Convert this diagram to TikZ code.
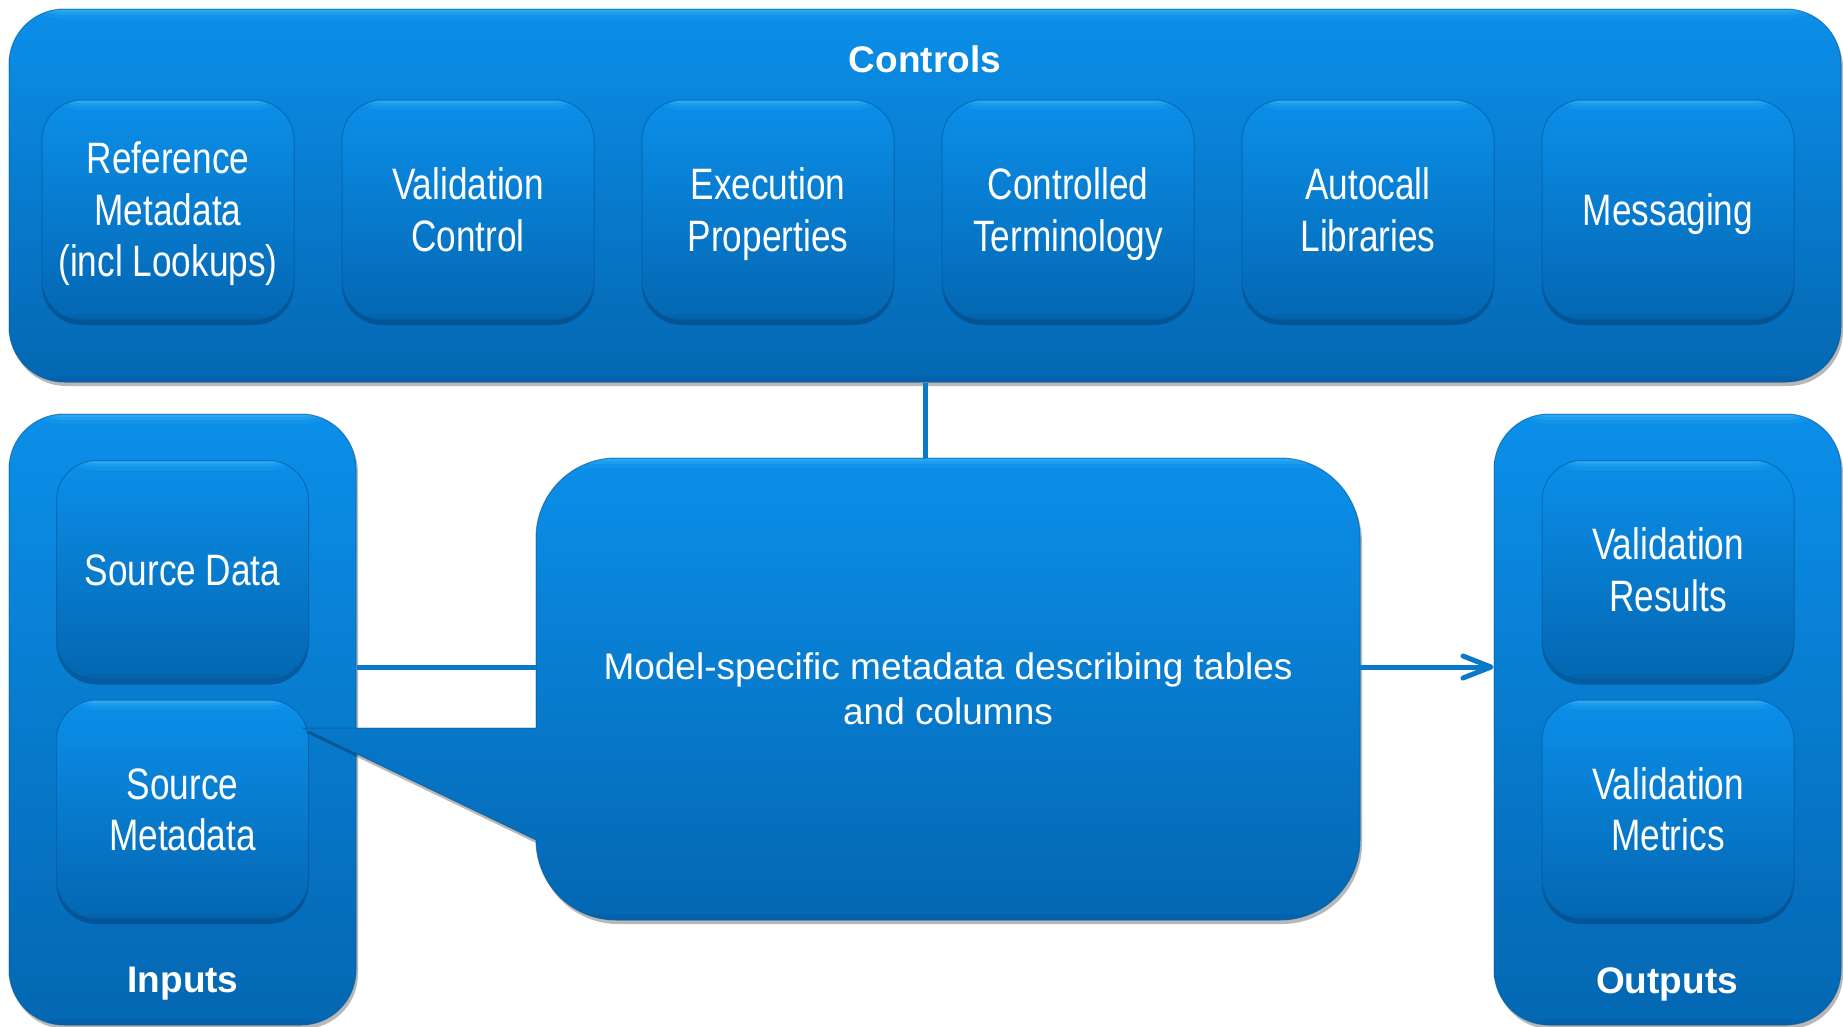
\documentclass[tikz,border=0pt]{standalone}
\usepackage{fontspec}
\setmainfont{Liberation Sans}
\newfontfamily\narrowfont[FakeStretch=0.8]{Liberation Sans}
\usetikzlibrary{shadows,arrows.meta,calc}
\definecolor{btop}{RGB}{11,143,233}
\definecolor{bbot}{RGB}{4,103,178}
\definecolor{lnk}{RGB}{10,122,200}
\definecolor{bedge}{RGB}{3,88,155}
\definecolor{bshadow}{RGB}{2,60,110}
\definecolor{hilite}{RGB}{70,190,252}
\newcommand\ppstrut{\rule[-0.212em]{0pt}{1.117em}}
\begin{document}
\begin{tikzpicture}[x=1pt,y=-1pt,
  bevel/.style={path picture={
    \fill[hilite,opacity=0.30] ([yshift=2pt]path picture bounding box.north west) rectangle ([yshift=-3pt]path picture bounding box.north east);
    \fill[hilite,opacity=0.22] ([yshift=2pt]path picture bounding box.north west) rectangle ([yshift=-6pt]path picture bounding box.north east);
    \fill[hilite,opacity=0.12] ([yshift=2pt]path picture bounding box.north west) rectangle ([yshift=-10pt]path picture bounding box.north east);
    \fill[bshadow,opacity=0.10] ([yshift=-2pt]path picture bounding box.south west) rectangle ([yshift=6pt]path picture bounding box.south east);
  }},
  outerbox/.style={rounded corners=55pt, top color=btop, bottom color=bbot,
    draw=bedge, draw opacity=0.6, line width=1pt, inner sep=0pt, bevel,
    drop shadow={shadow xshift=2pt,shadow yshift=-4pt,opacity=0.28,fill=black}},
  innerbox/.style={rounded corners=40pt, top color=btop, bottom color=bbot,
    draw=bedge, draw opacity=0.6, line width=1pt, inner sep=0pt, bevel,
    drop shadow={shadow xshift=0pt,shadow yshift=-5pt,opacity=0.5,fill=bshadow},
    minimum width=252pt, minimum height=219pt, align=center, text=white,
    font=\narrowfont\fontsize{44}{51.5}\selectfont},
  calloutbox/.style={top color=btop, bottom color=bbot, draw=bedge, draw opacity=0.6,
    line width=1pt, bevel,
    drop shadow={shadow xshift=2pt,shadow yshift=-4pt,opacity=0.28,fill=black}},
  titletext/.style={text=white, font=\bfseries\fontsize{37}{44}\selectfont},
  link/.style={draw=lnk, line width=5pt},
]
\useasboundingbox (0,0) rectangle (1843,1026);

% outer containers
\node[outerbox, minimum width=1832pt, minimum height=373pt] (controls) at (925,195.5) {};
\node[outerbox, minimum width=347pt, minimum height=611pt] (inputs) at (182.5,719.5) {};
\node[outerbox, minimum width=347pt, minimum height=611pt] (outputs) at (1667.5,719.5) {};

% titles
\node[titletext] (ctitle) at (925,59) {Controls};
\node[titletext] (ititle) at (183,984) {Inputs};
\node[titletext] (otitle) at (1667,984) {Outputs};

% control boxes
\node[innerbox, minimum height=220pt] (refmeta) at (168,210) {\ppstrut Reference\\Metadata\\(incl Lookups)\ppstrut};
\node[innerbox, minimum height=220pt] (valctl) at (468,210) {\ppstrut Validation\\Control\ppstrut};
\node[innerbox, minimum height=220pt] (execprop) at (768,210) {\ppstrut Execution\\Properties\ppstrut};
\node[innerbox, minimum height=220pt] (ctterm) at (1068,210) {\ppstrut Controlled\\Terminology\ppstrut};
\node[innerbox, minimum height=220pt] (autocall) at (1368,210) {\ppstrut Autocall\\Libraries\ppstrut};
\node[innerbox, minimum height=220pt] (msg) at (1668,210) {\ppstrut Messaging\ppstrut};

% input / output boxes
\node[innerbox] (srcdata) at (182.5,570) {\ppstrut Source Data\ppstrut};
\node[innerbox] (srcmeta) at (182.5,809.5) {\ppstrut Source\\Metadata\ppstrut};
\node[innerbox] (valres) at (1668,570) {\ppstrut Validation\\Results\ppstrut};
\node[innerbox] (valmet) at (1668,809.5) {\ppstrut Validation\\Metrics\ppstrut};

% central callout
\path[calloutbox] (303,728) -- (536,840) [rounded corners=80pt] -- (536,920)
  -- (1360,920) -- (1360,458) -- (536,458) [sharp corners] -- (536,728) -- cycle;
\node[minimum width=824pt, minimum height=462pt, inner sep=0pt, align=center, text=white,
  font=\fontsize{37}{44.5}\selectfont] (cb) at (948,689)
  {Model-specific metadata describing tables\\and columns};

% connectors
\coordinate (ly) at (0,667);
\draw[link] (controls.south) -- (controls.south |- cb.north);
\draw[link] (inputs.east |- ly) -- (cb.west |- ly);
\draw[link, -{Straight Barb[length=28pt,width=22pt,round]}] (cb.east |- ly) -- (outputs.west |- ly);
\end{tikzpicture}
\end{document}
